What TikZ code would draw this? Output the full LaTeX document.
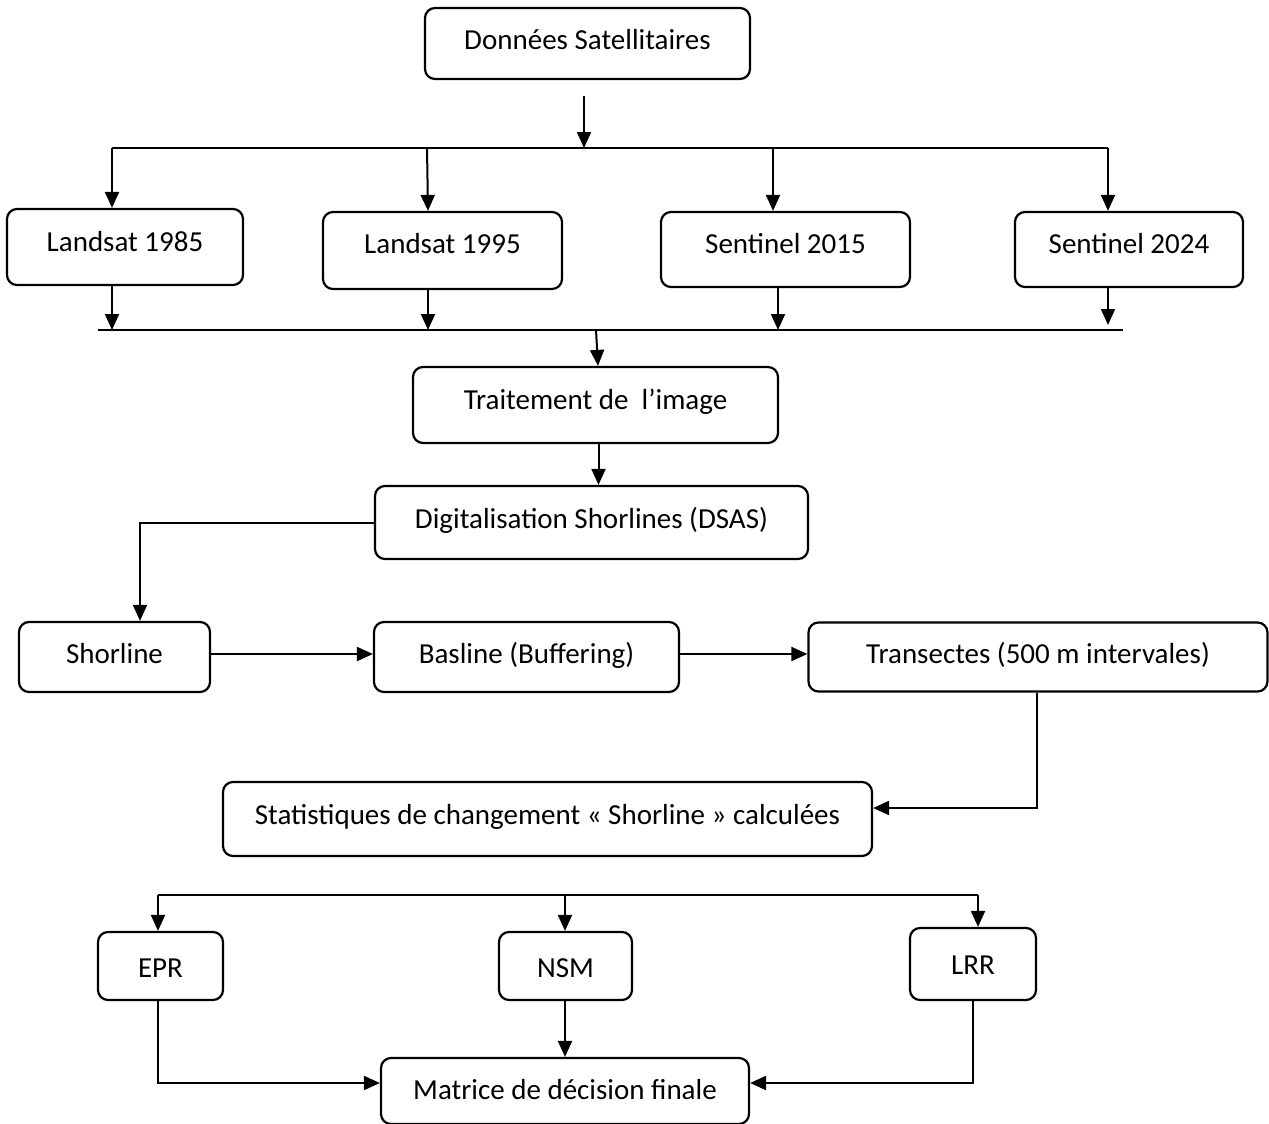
\documentclass[tikz,border=0pt]{standalone}
\usepackage{fontspec}
\setmainfont{Carlito}
\usetikzlibrary{arrows.meta}
\begin{document}
\begin{tikzpicture}[x=1pt,y=-1pt,
  box/.style={draw, line width=2.2pt, rounded corners=10pt, inner sep=0pt},
  lbl/.style={anchor=base, inner sep=0pt, font=\fontsize{29}{35}\selectfont},
  conn/.style={line width=2pt},
  arr/.style={line width=2pt, -{Triangle[length=16pt,width=14pt]}}]
\useasboundingbox (0,0) rectangle (1269,1124);
% boxes
\node[box, minimum width=325, minimum height=71] (ds) at (587.5,43.5) {};
\node[lbl] (dst) at (587.5,49) {Données Satellitaires};
\node[box, minimum width=236, minimum height=76] (l85) at (125,247) {};
\node[lbl] (l85t) at (125,251) {Landsat 1985};
\node[box, minimum width=239, minimum height=77] (l95) at (442.5,250.5) {};
\node[lbl] (l95t) at (442.5,253) {Landsat 1995};
\node[box, minimum width=249, minimum height=75] (s15) at (785.5,249.5) {};
\node[lbl] (s15t) at (785.5,253) {Sentinel 2015};
\node[box, minimum width=228, minimum height=75] (s24) at (1129,249.5) {};
\node[lbl] (s24t) at (1129,253) {Sentinel 2024};
\node[box, minimum width=365, minimum height=76] (tr) at (595.5,405) {};
\node[lbl] (trt) at (595.5,409) {Traitement de\ \ l’image};
\node[box, minimum width=433, minimum height=73] (dg) at (591.5,522.5) {};
\node[lbl] (dgt) at (591.5,528) {Digitalisation Shorlines (DSAS)};
\node[box, minimum width=191, minimum height=70] (sh) at (114.5,657) {};
\node[lbl] (sht) at (114.5,663) {Shorline};
\node[box, minimum width=305, minimum height=70] (bl) at (526.5,657) {};
\node[lbl] (blt) at (526.5,663) {Basline (Buffering)};
\node[box, minimum width=459, minimum height=69] (tx) at (1038,657) {};
\node[lbl] (txt) at (1038,663) {Transectes (500 m intervales)};
\node[box, minimum width=649, minimum height=74] (st) at (547.5,819) {};
\node[lbl] (stt) at (547.5,824) {Statistiques de changement « Shorline » calculées};
\node[box, minimum width=125, minimum height=68] (epr) at (160.5,966) {};
\node[lbl] (eprt) at (160.5,977) {EPR};
\node[box, minimum width=133, minimum height=68] (nsm) at (565.5,966) {};
\node[lbl] (nsmt) at (565.5,977) {NSM};
\node[box, minimum width=126, minimum height=72] (lrr) at (973,964) {};
\node[lbl] (lrrt) at (973,974) {LRR};
\node[box, minimum width=368, minimum height=66] (mx) at (565,1091) {};
\node[lbl] (mxt) at (565,1099) {Matrice de décision finale};
% top bus
\coordinate (a0) at (584,96);
\coordinate (b1) at (112,148);
\coordinate (b2) at (1108,148);
\draw[arr] (a0) -- (584,148);
\draw[conn] (b1) -- (b2);
\draw[arr] (b1) -- (112,148 |- l85.north);
\draw[arr] (427,148) -- (428,148 |- l95.north);
\draw[arr] (773,148) -- (773,148 |- s15.north);
\draw[arr] (b2) -- (1108,148 |- s24.north);
% lower bus
\coordinate (c1) at (98,330);
\coordinate (c2) at (1123,330);
\draw[conn] (c1) -- (c2);
\draw[arr] (112,148 |- l85.south) -- (112,330);
\draw[arr] (428,148 |- l95.south) -- (428,330);
\draw[arr] (778,148 |- s15.south) -- (778,330);
\draw[arr] (1108,148 |- s24.south) -- (1108,325);
\draw[arr] (596,330) -- ([xshift=2.5pt]tr.north);
\draw[arr] ([xshift=3pt]tr.south) -- ([xshift=3pt]tr.south |- dg.north);
% digitalisation to shorline
\draw[arr] (dg.west) -| ([xshift=25.5pt]sh.north);
\draw[arr] ([yshift=3pt]sh.east) -- ([yshift=3pt]bl.west);
\draw[arr] ([yshift=3pt]bl.east) -- ([yshift=3pt]tx.west);
\draw[arr] ([xshift=-1pt]tx.south) |- ([yshift=11pt]st.east);
% bottom bus
\coordinate (d1) at (158,895);
\coordinate (d2) at (978,895);
\draw[conn] (d1) -- (d2);
\draw[arr] (d1) -- (158,895 |- epr.north);
\draw[arr] (565,895) -- (565,895 |- nsm.north);
\draw[arr] (d2) -- (978,895 |- lrr.north);
\draw[arr] (565,895 |- nsm.south) -- (565,895 |- mx.north);
\draw[arr] (158,895 |- epr.south) |- ([yshift=8pt]mx.west);
\draw[arr] (973,895 |- lrr.south) |- ([yshift=8pt]mx.east);
\end{tikzpicture}
\end{document}
